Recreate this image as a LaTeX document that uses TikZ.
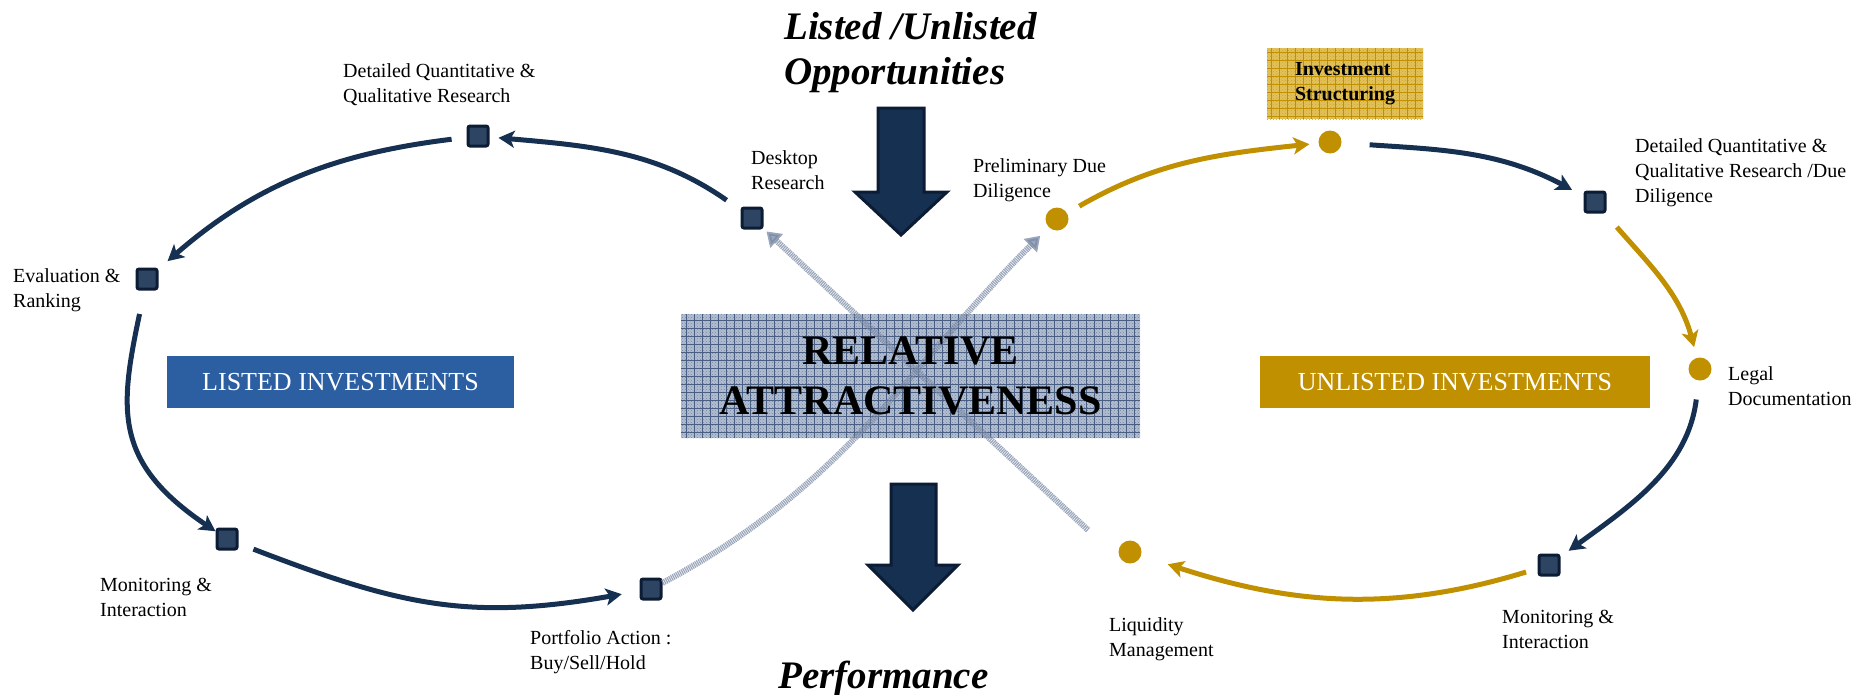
\documentclass[tikz,border=0pt]{standalone}
\usepackage{fontspec}
\setmainfont{Liberation Serif}
\usepackage{tikz}
\usetikzlibrary{arrows.meta,patterns}

\definecolor{navy}{RGB}{22,48,82}
\definecolor{navydark}{RGB}{12,28,52}
\definecolor{gold}{RGB}{192,144,0}
\definecolor{goldlight}{RGB}{226,194,92}
\definecolor{listblue}{RGB}{44,94,162}
\definecolor{hatch}{RGB}{120,136,164}
\definecolor{relfill}{RGB}{178,190,208}
\definecolor{reldots}{RGB}{118,136,166}
\definecolor{relgrid}{RGB}{72,94,130}

\begin{document}
\begin{tikzpicture}[x=1pt,y=1pt,
	sqnode/.style={draw=navydark,fill=navy!90!white,line width=3pt,rounded corners=2pt,minimum size=20pt,inner sep=0pt},
	golddot/.style={circle,fill=gold,minimum size=23pt,inner sep=0pt},
	lbl/.style={anchor=west,align=left,inner sep=0pt,font=\fontsize{20}{25}\selectfont},
	flow/.style={line width=5pt,-{Stealth[length=16pt,width=17pt,inset=4pt]}},
	xarrow/.style={line width=6pt,draw=hatch,opacity=.75,dash pattern=on 1.2pt off 0.8pt,-{Triangle[length=14pt,width=18pt]}},
	blockarrow/.style={fill=navy,draw=navydark,line width=3pt},
	catbox/.style={minimum height=52pt,inner sep=0pt,text=white,font=\fontsize{26}{30}\selectfont},
	title/.style={anchor=west,align=left,inner sep=0pt,font=\fontsize{39}{45}\selectfont\bfseries\itshape}]
	\useasboundingbox (0,0) rectangle (1862,-694);

	% listed loop
	\node[sqnode] (0) at (752,-218) {};
	\node[sqnode] (1) at (478,-136) {};
	\node[sqnode] (2) at (147,-279) {};
	\node[sqnode] (3) at (227,-539) {};
	\node[sqnode] (4) at (651,-589) {};
	% unlisted loop
	\node[golddot] (5) at (1057,-219) {};
	\node[golddot] (6) at (1330,-142) {};
	\node[sqnode] (7) at (1595,-202) {};
	\node[golddot] (8) at (1700,-369) {};
	\node[sqnode] (9) at (1549,-565) {};
	\node[golddot] (10) at (1130,-552) {};

	\node[lbl] (t0) at (751,-170.5) {Desktop\\Research};
	\node[lbl] (t1) at (343,-84.5) {Detailed Quantitative \&\\Qualitative Research};
	\node[lbl] (t2) at (13,-290.5) {Evaluation \&\\Ranking};
	\node[lbl] (t3) at (100,-597.5) {Monitoring \&\\Interaction};
	\node[lbl] (t4) at (530,-652) {Portfolio Action :\\Buy/Sell/Hold};
	\node[lbl] (t5) at (973,-180) {Preliminary Due\\Diligence};
	\node[lbl] (t7) at (1635,-172.5) {Detailed Quantitative \&\\Qualitative Research /Due\\Diligence};
	\node[lbl] (t8) at (1728,-386.5) {Legal\\Documentation};
	\node[lbl] (t9) at (1502,-629.5) {Monitoring \&\\Interaction};
	\node[lbl] (t10) at (1109,-639.5) {Liquidity\\Management};

	\node[minimum width=156pt,minimum height=71pt,inner sep=0pt,preaction={fill=goldlight},pattern=crosshatch dots,pattern color=gold!80,
		path picture={\draw[gold,step=8pt,line width=.8pt] (path picture bounding box.south west) grid (path picture bounding box.north east);},
		align=left,font=\fontsize{20}{25}\selectfont\bfseries] (s) at (1345,-83.5) {Investment\\Structuring};

	\draw[flow,navy,shorten <=17pt,shorten >=9pt] (0) to[out=145,in=-5] (1);
	\draw[flow,navy,shorten <=15pt,shorten >=12pt] (1) to[out=187,in=41] (2);
	\draw[flow,navy,shorten <=24pt,shorten >=0pt] (2) to[out=258,in=146,looseness=1.25] (3);
	\draw[flow,navy,shorten <=16pt,shorten >=18pt] (3) to[out=-21,in=190,looseness=1.1] (4);
	\draw[flow,gold,shorten <=14pt,shorten >=9pt] (5) to[out=30,in=186] (6);
	\draw[flow,navy,shorten <=28pt,shorten >=13pt] (6) to[out=-4,in=152] (7);
	\draw[flow,gold,shorten <=18pt,shorten >=11pt] (7) to[out=-49,in=105] (8);
	\draw[flow,navy,shorten <=19pt,shorten >=10pt] (8) to[out=263,in=36] (9);
	\draw[flow,gold,shorten <=12pt,shorten >=28pt] (9) to[out=197,in=-18] (10);

	\node[catbox,fill=listblue,minimum width=347pt] (lst) at (340.5,-382) {LISTED INVESTMENTS};
	\node[catbox,fill=gold,minimum width=390pt] (unl) at (1455,-382) {UNLISTED INVESTMENTS};

	% centre
	\node[minimum width=459pt,minimum height=124pt,inner sep=0pt,preaction={fill=relfill},pattern=crosshatch dots,pattern color=reldots,
		path picture={\draw[relgrid,step=8pt,line width=1pt] (path picture bounding box.south west) grid (path picture bounding box.north east);}] (rel) at (910.5,-376) {};
	\coordinate (c0) at (1088,-530);
	\draw[xarrow,shorten >=4pt] (c0) -- (0);
	\draw[xarrow,shorten >=12pt] (4) to[out=28,in=225] (5);
	\node[align=center,inner sep=0pt,font=\fontsize{42}{50}\selectfont\bfseries] (reltxt) at (rel) {RELATIVE\\ATTRACTIVENESS};

	\filldraw[blockarrow] (878,-108) -- (924,-108) -- (924,-192) -- (947,-192) -- (901,-235) -- (855,-192) -- (878,-192) -- cycle;
	\filldraw[blockarrow] (891,-484) -- (936,-484) -- (936,-565) -- (958,-565) -- (913,-610) -- (868,-565) -- (891,-565) -- cycle;

	\node[title] (top) at (784,-52.5) {Listed /Unlisted\\Opportunities};
	\node[title] (bottom) at (778,-679) {Performance};
\end{tikzpicture}
\end{document}
